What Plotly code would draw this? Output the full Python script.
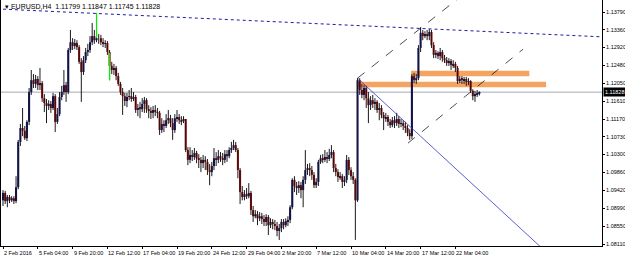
import plotly.graph_objects as go

# ---------------- data (EURUSD H4) ----------------
first_open = 1.0918
closes = [
1.0936, 1.0916, 1.0926, 1.0918, 1.0923, 1.0916, 1.0950, 1.1061, 1.1095, 1.1088,
1.1070, 1.1110, 1.1183, 1.1212, 1.1203, 1.1215, 1.1200, 1.1205, 1.1168, 1.1156,
1.1149, 1.1154, 1.1144, 1.1173, 1.1110, 1.1129, 1.1171, 1.1183, 1.1200, 1.1183,
1.1286, 1.1305, 1.1296, 1.1303, 1.1293, 1.1257, 1.1232, 1.1261, 1.1281, 1.1286,
1.1305, 1.1320, 1.1310, 1.1315, 1.1315, 1.1305, 1.1301, 1.1303, 1.1281, 1.1247,
1.1237, 1.1242, 1.1222, 1.1203, 1.1183, 1.1173, 1.1161, 1.1171, 1.1173, 1.1166,
1.1171, 1.1139, 1.1144, 1.1141, 1.1154, 1.1163, 1.1141, 1.1137, 1.1132, 1.1139,
1.1134, 1.1132, 1.1090, 1.1105, 1.1100, 1.1114, 1.1119, 1.1107, 1.1090, 1.1119,
1.1122, 1.1114, 1.1112, 1.1117, 1.1041, 1.1017, 1.1029, 1.1024, 1.1034, 1.1021,
1.1017, 1.1009, 1.1017, 1.1012, 1.0992, 1.0987, 1.1002, 1.1021, 1.1017, 1.1026,
1.1021, 1.1017, 1.1031, 1.1026, 1.1041, 1.1046, 1.1053, 1.1041, 1.0992, 1.0938,
1.0926, 1.0933, 1.0928, 1.0936, 1.0894, 1.0879, 1.0884, 1.0874, 1.0879, 1.0872,
1.0865, 1.0877, 1.0857, 1.0865, 1.0860, 1.0855, 1.0843, 1.0850, 1.0865, 1.0857,
1.0867, 1.0870, 1.0901, 1.0968, 1.0953, 1.0948, 1.0955, 1.0943, 1.0968, 1.0992,
1.0997, 1.0992, 1.0980, 1.0955, 1.0963, 1.1012, 1.1021, 1.1017, 1.1024, 1.1019,
1.1029, 1.1036, 1.0997, 1.0987, 1.0975, 1.0977, 1.0963, 1.0968, 1.1017, 1.0992,
1.0977, 1.0968, 1.0918, 1.1212, 1.1188, 1.1176, 1.1193, 1.1168, 1.1151, 1.1163,
1.1154, 1.1159, 1.1139, 1.1144, 1.1127, 1.1119, 1.1122, 1.1110, 1.1102, 1.1114,
1.1107, 1.1117, 1.1105, 1.1107, 1.1100, 1.1095, 1.1083, 1.1075, 1.1222, 1.1212,
1.1217, 1.1291, 1.1328, 1.1320, 1.1325, 1.1320, 1.1330, 1.1298, 1.1274, 1.1279,
1.1271, 1.1281, 1.1266, 1.1261, 1.1254, 1.1259, 1.1249, 1.1252, 1.1242, 1.1210,
1.1215, 1.1212, 1.1215, 1.1208, 1.1210, 1.1186, 1.1173, 1.1178, 1.11799, 1.11828,
]
highs = [
1.0943, 1.0941, 1.0931, 1.0931, 1.0928, 1.0928, 1.0977, 1.1066, 1.1105, 1.1144,
1.1100, 1.1114, 1.1193, 1.1237, 1.1227, 1.1225, 1.1222, 1.1242, 1.1210, 1.1178,
1.1166, 1.1163, 1.1161, 1.1181, 1.1178, 1.1144, 1.1183, 1.1198, 1.1237, 1.1208,
1.1291, 1.1335, 1.1315, 1.1313, 1.1310, 1.1298, 1.1266, 1.1271, 1.1291, 1.1301,
1.1320, 1.1352, 1.1335, 1.1374, 1.1325, 1.1323, 1.1315, 1.1310, 1.1308, 1.1286,
1.1257, 1.1252, 1.1247, 1.1230, 1.1208, 1.1193, 1.1181, 1.1181, 1.1188, 1.1193,
1.1183, 1.1176, 1.1154, 1.1159, 1.1168, 1.1171, 1.1168, 1.1151, 1.1146, 1.1149,
1.1151, 1.1144, 1.1137, 1.1119, 1.1114, 1.1129, 1.1139, 1.1127, 1.1119, 1.1129,
1.1139, 1.1129, 1.1124, 1.1124, 1.1117, 1.1048, 1.1048, 1.1041, 1.1046, 1.1039,
1.1031, 1.1024, 1.1029, 1.1026, 1.1019, 1.1007, 1.1012, 1.1046, 1.1036, 1.1041,
1.1036, 1.1034, 1.1041, 1.1041, 1.1048, 1.1061, 1.1066, 1.1061, 1.1046, 1.0997,
1.0953, 1.0943, 1.0948, 1.0960, 1.0941, 1.0904, 1.0894, 1.0892, 1.0889, 1.0887,
1.0882, 1.0884, 1.0882, 1.0874, 1.0872, 1.0870, 1.0865, 1.0860, 1.0872, 1.0872,
1.0874, 1.0879, 1.0906, 1.0972, 1.0977, 1.0963, 1.0965, 1.0963, 1.0977, 1.1041,
1.1007, 1.1009, 1.1002, 1.0987, 1.0972, 1.1017, 1.1029, 1.1031, 1.1041, 1.1036,
1.1044, 1.1053, 1.1041, 1.1007, 1.0994, 1.0987, 1.0982, 1.0977, 1.1029, 1.1024,
1.0999, 1.0987, 1.0972, 1.1217, 1.1217, 1.1203, 1.1200, 1.1198, 1.1183, 1.1173,
1.1176, 1.1168, 1.1163, 1.1156, 1.1151, 1.1134, 1.1132, 1.1127, 1.1117, 1.1122,
1.1124, 1.1132, 1.1124, 1.1117, 1.1114, 1.1110, 1.1102, 1.1092, 1.1227, 1.1230,
1.1227, 1.1298, 1.1342, 1.1335, 1.1332, 1.1335, 1.1337, 1.1335, 1.1305, 1.1286,
1.1283, 1.1291, 1.1286, 1.1274, 1.1269, 1.1266, 1.1264, 1.1261, 1.1257, 1.1247,
1.1222, 1.1222, 1.1220, 1.1220, 1.1217, 1.1212, 1.1190, 1.1186, 1.1188, 1.11847,
]
lows = [
1.0904, 1.0909, 1.0901, 1.0911, 1.0914, 1.0909, 1.0911, 1.0945, 1.1051, 1.1075,
1.1066, 1.1063, 1.1102, 1.1176, 1.1193, 1.1193, 1.1188, 1.1188, 1.1159, 1.1134,
1.1107, 1.1139, 1.1132, 1.1139, 1.1085, 1.1105, 1.1124, 1.1163, 1.1176, 1.1159,
1.1178, 1.1279, 1.1286, 1.1288, 1.1286, 1.1252, 1.1159, 1.1225, 1.1254, 1.1271,
1.1279, 1.1298, 1.1301, 1.1305, 1.1301, 1.1298, 1.1293, 1.1291, 1.1274, 1.1212,
1.1227, 1.1225, 1.1212, 1.1198, 1.1176, 1.1127, 1.1149, 1.1146, 1.1163, 1.1159,
1.1161, 1.1132, 1.1124, 1.1119, 1.1134, 1.1132, 1.1132, 1.1119, 1.1117, 1.1119,
1.1124, 1.1119, 1.1078, 1.1083, 1.1085, 1.1095, 1.1105, 1.1097, 1.1066, 1.1083,
1.1110, 1.1105, 1.1102, 1.1107, 1.1036, 1.1004, 1.1009, 1.1014, 1.1017, 1.1009,
1.0997, 1.0987, 1.0997, 1.0992, 1.0980, 1.0955, 1.0977, 1.0992, 1.1002, 1.1009,
1.1012, 1.1004, 1.1009, 1.1012, 1.1021, 1.1034, 1.1041, 1.1036, 1.0972, 1.0909,
1.0918, 1.0918, 1.0921, 1.0923, 1.0882, 1.0865, 1.0874, 1.0857, 1.0867, 1.0860,
1.0855, 1.0855, 1.0833, 1.0850, 1.0847, 1.0845, 1.0830, 1.0821, 1.0840, 1.0847,
1.0852, 1.0855, 1.0862, 1.0896, 1.0938, 1.0931, 1.0936, 1.0923, 1.0901, 1.0958,
1.0980, 1.0977, 1.0968, 1.0948, 1.0948, 1.0953, 1.1007, 1.1009, 1.1012, 1.1009,
1.1014, 1.1021, 1.0987, 1.0977, 1.0963, 1.0968, 1.0948, 1.0953, 1.0960, 1.0980,
1.0968, 1.0958, 1.0821, 1.0914, 1.1176, 1.1168, 1.1163, 1.1144, 1.1107, 1.1139,
1.1144, 1.1139, 1.1132, 1.1114, 1.1119, 1.1090, 1.1110, 1.1100, 1.1095, 1.1097,
1.1095, 1.1100, 1.1095, 1.1097, 1.1090, 1.1083, 1.1075, 1.1066, 1.1068, 1.1205,
1.1203, 1.1212, 1.1281, 1.1310, 1.1315, 1.1310, 1.1310, 1.1291, 1.1266, 1.1266,
1.1264, 1.1261, 1.1257, 1.1254, 1.1247, 1.1247, 1.1237, 1.1242, 1.1232, 1.1203,
1.1205, 1.1203, 1.1203, 1.1198, 1.1200, 1.1181, 1.1163, 1.1159, 1.1171, 1.11745,
]
opens = [first_open] + closes[:-1]   # H4 forex bars open at the previous close
bar_index = list(range(len(closes)))

# time-axis labels (one every 16 bars)
time_label_bars = [0, 16, 32, 48, 64, 80, 96, 112, 128, 144, 160, 176, 192, 208]
time_labels = ["2 Feb 2016", "5 Feb 04:00", "9 Feb 20:00", "12 Feb 12:00", "17 Feb 04:00",
               "19 Feb 20:00", "24 Feb 12:00", "29 Feb 04:00", "2 Mar 20:00", "7 Mar 12:00",
               "10 Mar 04:00", "14 Mar 20:00", "17 Mar 12:00", "22 Mar 04:00"]
price_ticks = [1.13790, 1.13360, 1.12920, 1.12480, 1.12050, 1.11610, 1.11170,
               1.10730, 1.10300, 1.09860, 1.09420, 1.08990, 1.08550, 1.08110]
last_price = 1.11828
title_text = "EURUSD,H4  1.11799 1.11847 1.11745 1.11828"

# highlighted (green) bars
green_bars = [43, 49]
green_top = [1.1377, 1.1279]
green_bottom = [1.1315, 1.1212]

# chart drawing objects: (bar, price) endpoints
dotted_trend = [(0, 1.1386), (276, 1.1318)]
down_trend = [(163, 1.1217), (250, 1.0790)]
channel_upper = [(163, 1.1217), (210, 1.1415)]
channel_lower = [(186.2, 1.1058), (239.1, 1.1288)]
zone_upper = [(187.6, 1.1235), (242.0, 1.1222)]
zone_lower = [(163.2, 1.1208), (249.7, 1.1195)]

x_range = [-0.92, 275.4]
y_range = [1.08061, 1.14084]

# ---------------- figure ----------------
fig = go.Figure()

# wicks (high-low)
wx, wy = [], []
for i, h, l in zip(bar_index, highs, lows):
    wx += [i, i, None]
    wy += [h, l, None]
fig.add_trace(go.Scatter(x=wx, y=wy, mode="lines", line=dict(color="#1a1a1a", width=1),
                         showlegend=False, hoverinfo="skip"))

# bodies (open-close)
body_colors = ["#0c0c70" if c >= o else "#a00000" for o, c in zip(opens, closes)]
fig.add_trace(go.Bar(x=bar_index, base=opens, y=[c - o for o, c in zip(opens, closes)],
                     width=0.95, marker=dict(color=body_colors, line=dict(width=0)),
                     showlegend=False, hoverinfo="skip"))

gx, gy = [], []
for b, t, btm in zip(green_bars, green_top, green_bottom):
    gx += [b, b, None]
    gy += [t, btm, None]
fig.add_trace(go.Scatter(x=gx, y=gy, mode="lines", line=dict(color="#00ee00", width=1.2),
                         showlegend=False, hoverinfo="skip"))

def seg(pts, color, dash, width=1):
    fig.add_trace(go.Scatter(x=[p[0] for p in pts], y=[p[1] for p in pts], mode="lines",
                             line=dict(color=color, width=width, dash=dash),
                             showlegend=False, hoverinfo="skip"))

seg(dotted_trend, "#1c1ca8", "dot", 1)
seg(down_trend, "#3535c8", "solid", 0.8)
seg(channel_upper, "#000000", "dash", 0.7)
seg(channel_lower, "#000000", "dash", 0.7)

shapes = []
for z in (zone_upper, zone_lower):
    shapes.append(dict(type="rect", xref="x", yref="y", x0=z[0][0], x1=z[1][0],
                       y0=z[1][1], y1=z[0][1], fillcolor="#f4a460", line=dict(width=0),
                       layer="below"))
shapes.append(dict(type="line", xref="paper", yref="y", x0=0, x1=1, y0=last_price, y1=last_price,
                   line=dict(color="#a3aab3", width=1), layer="below"))
fig.update_layout(shapes=shapes)

font_axis = dict(family="Liberation Sans, Arial, sans-serif", size=5.5, color="#000000")

annotations = []
for b, lab in zip(time_label_bars, time_labels):
    annotations.append(dict(x=b, y=0, xref="x", yref="paper", text=lab, showarrow=False,
                            xanchor="left", yanchor="top", yshift=-2, xshift=-1, font=font_axis))
annotations.append(dict(x=1, y=last_price, xref="paper", yref="y", text="1.11828",
                        showarrow=False, xanchor="left", yanchor="middle", xshift=1,
                        bgcolor="#000000", borderpad=1,
                        font=dict(family="Liberation Sans, Arial, sans-serif", size=5.5, color="#ffffff")))
annotations.append(dict(x=0, y=1, xref="paper", yref="paper", text="▾ " + title_text,
                        showarrow=False, xanchor="left", yanchor="top", xshift=2, yshift=-1,
                        font=dict(family="Liberation Sans, Arial, sans-serif", size=7, color="#000000")))
fig.update_layout(annotations=annotations)

fig.update_layout(
    width=625, height=258,
    margin=dict(l=1, r=23, t=0, b=12),
    paper_bgcolor="#ffffff", plot_bgcolor="#ffffff",
    showlegend=False, barmode="overlay",
    xaxis=dict(range=x_range, showgrid=False, zeroline=False,
               showline=True, linecolor="#000000", linewidth=1,
               tickmode="array", tickvals=time_label_bars, ticks="outside", ticklen=2,
               tickcolor="#000000", showticklabels=False),
    yaxis=dict(range=y_range, side="right", showgrid=False, zeroline=False,
               showline=True, linecolor="#000000", linewidth=1, mirror=True,
               tickmode="array", tickvals=price_ticks,
               ticktext=[f"{v:.5f}" for v in price_ticks],
               ticks="outside", ticklen=2, tickcolor="#000000", tickfont=font_axis),
)

fig.write_html("out.html")
